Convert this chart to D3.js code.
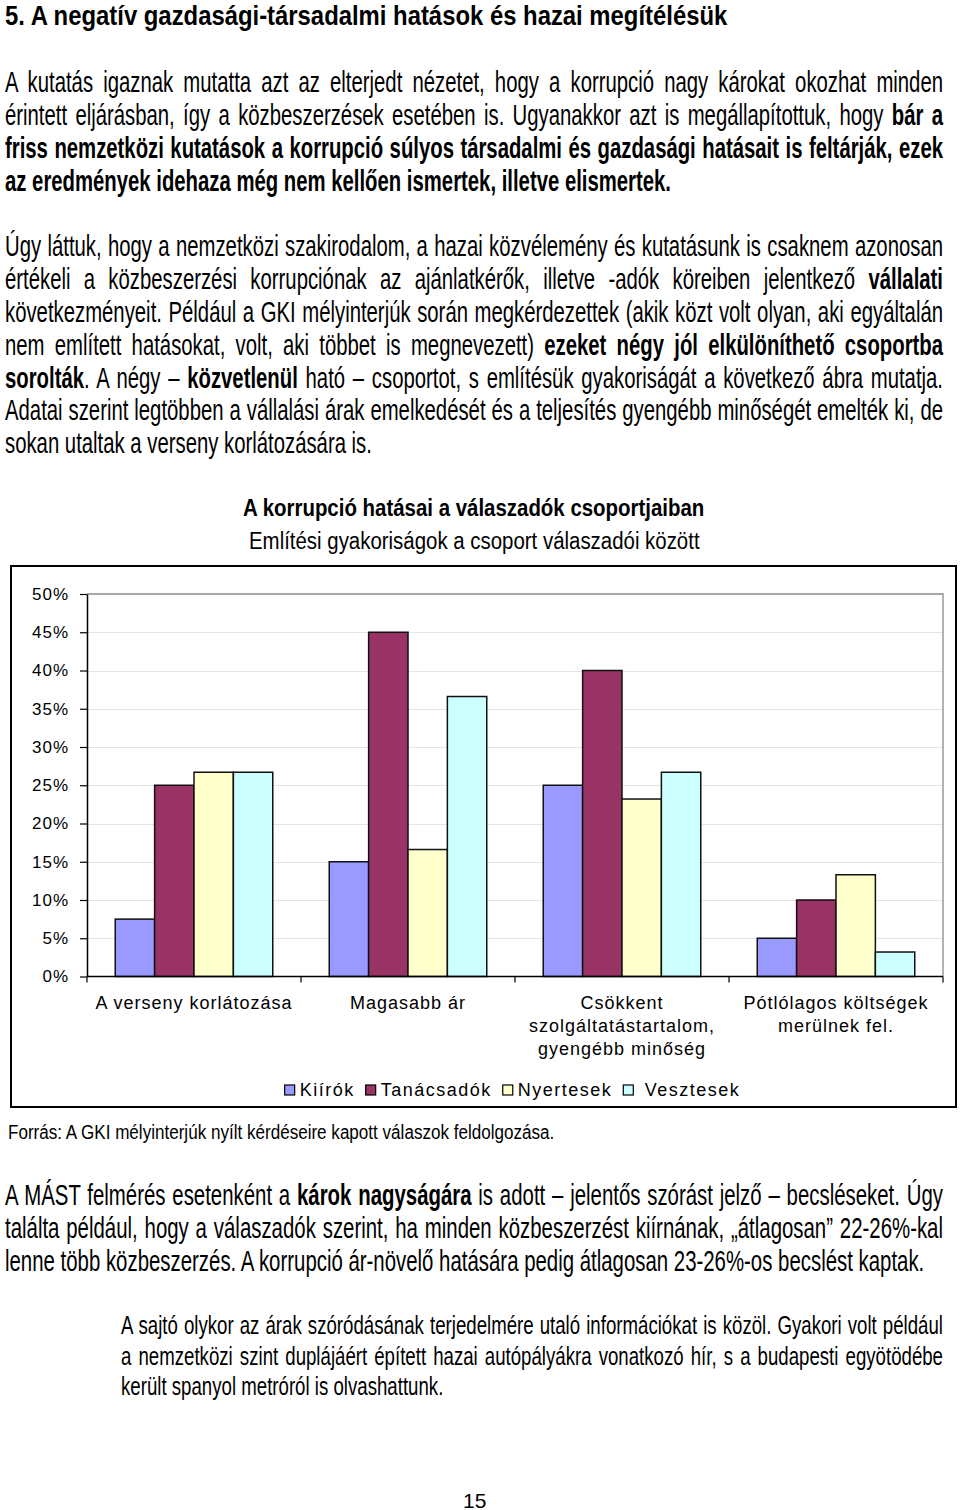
<!DOCTYPE html>
<html><head><meta charset="utf-8">
<script src="https://cdn.jsdelivr.net/npm/d3@7"></script>
<style>
html,body{margin:0;padding:0;background:#fff;}
body{width:960px;height:1510px;position:relative;overflow:hidden;font-family:"Liberation Sans",Arial,sans-serif;color:#000;}
.line{position:absolute;display:inline-block;white-space:nowrap;transform-origin:0 0;}
#chart{position:absolute;left:0;top:0;}
#chart text{font-family:"Liberation Sans",Arial,sans-serif;fill:#000;}
</style></head><body>
<div id="text"></div>
<svg id="chart" width="960" height="1510"></svg>
<script>
// ---------- chart data ----------
const categories = [
  ["A verseny korlátozása"],
  ["Magasabb ár"],
  ["Csökkent", "szolgáltatástartalom,", "gyengébb minőség"],
  ["Pótlólagos költségek", "merülnek fel."]
];
const seriesNames = ["Kiírók", "Tanácsadók", "Nyertesek", "Vesztesek"];
const kiirok     = [7.5, 15.0, 25.0, 5.0];
const tanacsadok = [25.0, 45.0, 40.0, 10.0];
const nyertesek  = [26.7, 16.6, 23.2, 13.3];
const vesztesek  = [26.7, 36.6, 26.7, 3.2];
const seriesColors = ["#9999FF", "#993366", "#FFFFCC", "#CCFFFF"];
const yTickValues = [0, 5, 10, 15, 20, 25, 30, 35, 40, 45, 50];
const chartTitle = "A korrupció hatásai a válaszadók csoportjaiban";
const chartSubtitle = "Említési gyakoriságok a csoport válaszadói között";
const sourceNote = "Forrás: A GKI mélyinterjúk nyílt kérdéseire kapott válaszok feldolgozása.";

// ---------- page text ----------
const heading = "5. A negatív gazdasági-társadalmi hatások és hazai megítélésük";
const para1 = [
  "A kutatás igaznak mutatta azt az elterjedt nézetet, hogy a korrupció nagy károkat okozhat minden",
  "érintett eljárásban, így a közbeszerzések esetében is. Ugyanakkor azt is megállapítottuk, hogy **bár a**",
  "**friss nemzetközi kutatások a korrupció súlyos társadalmi és gazdasági hatásait is feltárják, ezek**",
  "**az eredmények idehaza még nem kellően ismertek, illetve elismertek.**"
];
const para2 = [
  "Úgy láttuk, hogy a nemzetközi szakirodalom, a hazai közvélemény és kutatásunk is csaknem azonosan",
  "értékeli a közbeszerzési korrupciónak az ajánlatkérők, illetve -adók köreiben jelentkező **vállalati**",
  "következményeit. Például a GKI mélyinterjúk során megkérdezettek (akik közt volt olyan, aki egyáltalán",
  "nem említett hatásokat, volt, aki többet is megnevezett) **ezeket négy jól elkülöníthető csoportba**",
  "**sorolták**. A négy – **közvetlenül** ható – csoportot, s említésük gyakoriságát a következő ábra mutatja.",
  "Adatai szerint legtöbben a vállalási árak emelkedését és a teljesítés gyengébb minőségét emelték ki, de",
  "sokan utaltak a verseny korlátozására is."
];
const para3 = [
  "A MÁST felmérés esetenként a **károk nagyságára** is adott – jelentős szórást jelző – becsléseket. Úgy",
  "találta például, hogy a válaszadók szerint, ha minden közbeszerzést kiírnának, „átlagosan” 22-26%-kal",
  "lenne több közbeszerzés. A korrupció ár-növelő hatására pedig átlagosan 23-26%-os becslést kaptak."
];
const para4 = [
  "A sajtó olykor az árak szóródásának terjedelmére utaló információkat is közöl. Gyakori volt például",
  "a nemzetközi szint duplájáért épített hazai autópályákra vonatkozó hír, s a budapesti egyötödébe",
  "került spanyol metróról is olvashattunk."
];
const pageNumber = "15";

// ---------- text rendering helpers ----------
const textRoot = document.getElementById("text");
function toHTML(s) {
  return s.split("**").map((p, i) => {
    const esc = p.replace(/&/g, "&amp;").replace(/</g, "&lt;");
    return i % 2 ? "<b>" + esc + "</b>" : esc;
  }).join("");
}
function makeLine(str, x, baseline, fs, opts) {
  opts = opts || {};
  const L = Math.round(fs * 1.2);
  const d = document.createElement("div");
  d.className = "line";
  d.style.fontSize = fs + "px";
  d.style.lineHeight = L + "px";
  if (opts.bold) d.style.fontWeight = "bold";
  d.innerHTML = toHTML(str);
  textRoot.appendChild(d);
  const w = d.offsetWidth;
  d.style.left = x + "px";
  d.style.top = (baseline - (L / 2 + 0.3465 * fs)) + "px";
  return { d, w };
}
function fitLine(str, x, baseline, fs, target, opts) {
  const { d, w } = makeLine(str, x, baseline, fs, opts);
  const s = target / w;
  d.style.transform = "scaleX(" + s + ")";
  return s;
}
function centerLine(str, cx, baseline, fs, target, opts) {
  const { d, w } = makeLine(str, 0, baseline, fs, opts);
  const s = target / w;
  d.style.left = (cx - target / 2) + "px";
  d.style.transform = "scaleX(" + s + ")";
}
function paragraph(lines, x, width, baselines, fs, lastTarget) {
  const n = lines.length;
  const probe = makeLine(lines[n - 1], x, baselines[n - 1], fs);
  const sPara = lastTarget / probe.w;
  probe.d.style.transform = "scaleX(" + sPara + ")";
  for (let i = 0; i < n - 1; i++) {
    const { d, w } = makeLine(lines[i], x, baselines[i], fs);
    const s = Math.min(sPara, width / w);
    d.style.whiteSpace = "normal";
    d.style.width = (width / s) + "px";
    d.style.textAlign = "justify";
    d.style.textAlignLast = "justify";
    d.style.transform = "scaleX(" + s + ")";
  }
}

fitLine(heading, 5, 25, 27, 722, { bold: true });
paragraph(para1, 5, 938, [93, 126, 159, 192], 29, 666);
paragraph(para2, 5, 938, [257, 290, 323, 356, 389, 421, 454], 29, 367);
paragraph(para3, 5, 938, [1206, 1239, 1272], 29, 919);
paragraph(para4, 121, 822, [1335, 1366, 1396], 26, 322);
centerLine(chartTitle, 473.5, 516, 23, 461, { bold: true });
centerLine(chartSubtitle, 474.5, 549, 23, 451);
fitLine(sourceNote, 8, 1139, 20, 546);
centerLine(pageNumber, 474.5, 1508, 21, 23);

// ---------- chart ----------
const svg = d3.select("#chart");
const plot = { left: 87, right: 943, top: 594, bottom: 976.5 };
const values = [kiirok, tanacsadok, nyertesek, vesztesek];

svg.append("rect")
  .attr("x", 11).attr("y", 566).attr("width", 945).attr("height", 541)
  .attr("fill", "none").attr("stroke", "#000").attr("stroke-width", 2);

const x0 = d3.scaleBand().domain(d3.range(categories.length))
  .range([plot.left, plot.right]).paddingInner(0.264).paddingOuter(0.132);
const x1 = d3.scaleBand().domain(d3.range(seriesNames.length)).range([0, x0.bandwidth()]);
const y = d3.scaleLinear().domain([0, 50]).range([plot.bottom, plot.top]);

// gridlines
svg.append("g").selectAll("line")
  .data(yTickValues.filter(v => v > 0 && v < 50))
  .join("line")
  .attr("x1", plot.left).attr("x2", plot.right)
  .attr("y1", d => Math.round(y(d)) + 0.5).attr("y2", d => Math.round(y(d)) + 0.5)
  .attr("stroke", "#e4e4e4").attr("stroke-width", 1);
// plot border top/right
svg.append("path")
  .attr("d", `M${plot.left},${y(50)}H${plot.right}V${plot.bottom}`)
  .attr("fill", "none").attr("stroke", "#8a8a8a").attr("stroke-width", 1.3);

// bars
const groups = svg.append("g").selectAll("g")
  .data(categories.map((c, i) => i))
  .join("g")
  .attr("transform", i => `translate(${x0(i)},0)`);
groups.selectAll("rect")
  .data(i => values.map((arr, j) => ({ j, v: arr[i] })))
  .join("rect")
  .attr("x", d => x1(d.j))
  .attr("width", x1.bandwidth())
  .attr("y", d => y(d.v))
  .attr("height", d => y(0) - y(d.v))
  .attr("fill", d => seriesColors[d.j])
  .attr("stroke", "#111").attr("stroke-width", 1.5);

// y axis
const yAxis = svg.append("g")
  .attr("transform", `translate(${plot.left},0)`)
  .call(d3.axisLeft(y).tickValues(yTickValues).tickFormat(d => d + "%")
    .tickSize(7).tickSizeOuter(0).tickPadding(11));
yAxis.select(".domain").attr("stroke", "#000").attr("stroke-width", 1.5);
yAxis.selectAll(".tick line").attr("stroke", "#000").attr("stroke-width", 1.2);
yAxis.selectAll(".tick text").attr("font-size", 17).attr("letter-spacing", "1px")
  .attr("font-family", "'Liberation Sans', Arial, sans-serif").attr("fill", "#000");

// x axis
const xAxis = svg.append("g").attr("transform", `translate(0,${plot.bottom})`);
xAxis.append("line").attr("x1", plot.left).attr("x2", plot.right)
  .attr("stroke", "#000").attr("stroke-width", 1.5);
const boundaries = d3.range(categories.length + 1).map(i => plot.left + i * x0.step());
xAxis.selectAll("line.tk").data(boundaries).join("line").attr("class", "tk")
  .attr("x1", d => d).attr("x2", d => d).attr("y1", 0).attr("y2", 6)
  .attr("stroke", "#000").attr("stroke-width", 1.2);

// category labels
const catG = svg.append("g");
categories.forEach((lines, i) => {
  const t = catG.append("text")
    .attr("x", x0(i) + x0.bandwidth() / 2)
    .attr("y", 1009)
    .attr("text-anchor", "middle")
    .attr("font-size", 18).attr("letter-spacing", "1px");
  lines.forEach((ln, k) => {
    t.append("tspan").attr("x", x0(i) + x0.bandwidth() / 2)
      .attr("dy", k === 0 ? 0 : 23).text(ln);
  });
});

// legend
const legend = svg.append("g");
let cursor = 0;
const items = seriesNames.map((name, j) => {
  const g = legend.append("g");
  g.append("rect").attr("x", 0).attr("y", -11).attr("width", 10).attr("height", 10)
    .attr("fill", seriesColors[j]).attr("stroke", "#000").attr("stroke-width", 1.2);
  const label = (j === 3 ? "\u00a0" : "") + name;
  const tx = g.append("text").attr("x", 15).attr("y", 0)
    .attr("font-size", 18).attr("letter-spacing", "1.5px").text(label);
  const w = 15 + tx.node().getComputedTextLength();
  const pos = cursor;
  cursor += w + 11;
  return { g, pos };
});
const total = cursor - 11;
const startX = 512.5 - total / 2;
items.forEach(it => it.g.attr("transform", `translate(${startX + it.pos},1096)`));
</script>
</body></html>
